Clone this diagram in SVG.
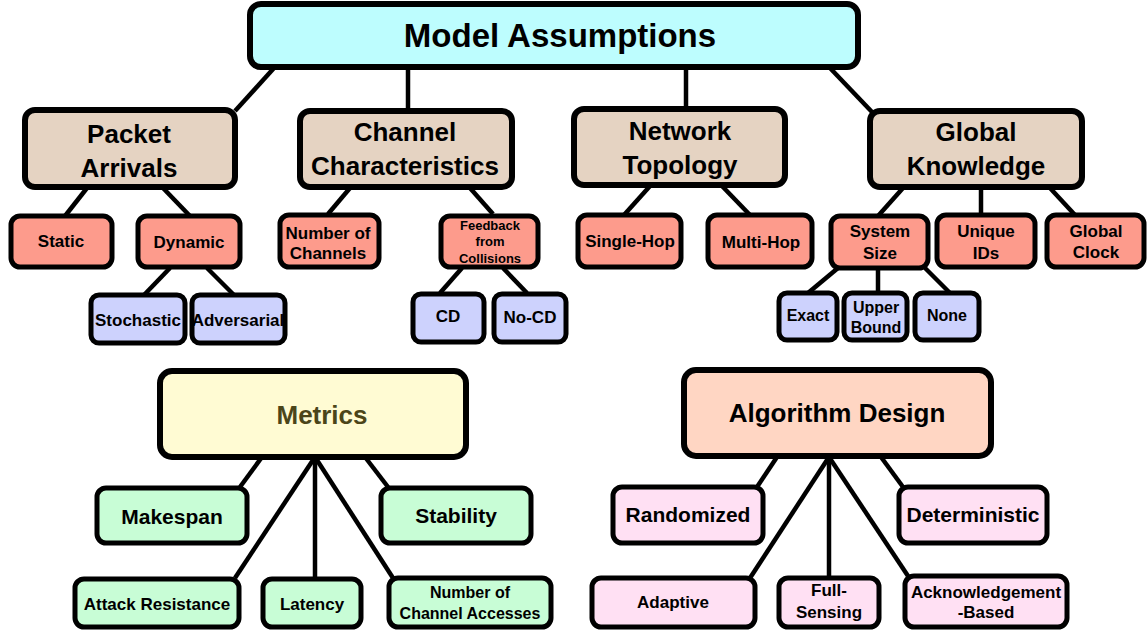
<svg xmlns="http://www.w3.org/2000/svg" width="1147" height="633" viewBox="0 0 1147 633">
<style>
rect{stroke:#000;stroke-linejoin:round}
.big{stroke-width:6}
.mid{stroke-width:6}
.sm{stroke-width:5}
.cyan{fill:#bdfdfe}
.tan{fill:#e5d3c2}
.red{fill:#fd9b8c}
.lav{fill:#cdd2fd}
.yel{fill:#fffbd3}
.peach{fill:#ffd6c3}
.grn{fill:#c8fdd6}
.pink{fill:#ffe0f3}
text{font-family:"Liberation Sans",Arial,Helvetica,sans-serif;font-weight:bold;fill:#000;text-anchor:middle;dominant-baseline:central}
.t32{font-size:33px}
.t26{font-size:26px}
.t21{font-size:21px}
.t17{font-size:17px}
.t16{font-size:16px}
.t13{font-size:13px}
#connectors line{stroke:#000;stroke-width:4.5;stroke-linecap:butt}
</style>
<rect width="1147" height="633" fill="#fff" style="stroke:none"/>
<g id="connectors">
<line x1="274" y1="68" x2="235" y2="111"/>
<line x1="408" y1="68" x2="408" y2="111"/>
<line x1="686" y1="68" x2="686" y2="109"/>
<line x1="830" y1="68" x2="872" y2="112"/>
<line x1="87" y1="188" x2="65" y2="216"/>
<line x1="163" y1="188" x2="190" y2="216"/>
<line x1="170" y1="268" x2="144" y2="295"/>
<line x1="207" y1="268" x2="234" y2="295"/>
<line x1="350" y1="188" x2="328" y2="214"/>
<line x1="470" y1="188" x2="493" y2="214"/>
<line x1="462" y1="268" x2="440" y2="293"/>
<line x1="503" y1="268" x2="527" y2="293"/>
<line x1="650" y1="186" x2="624" y2="215"/>
<line x1="722" y1="186" x2="750" y2="215"/>
<line x1="903" y1="188" x2="878" y2="216"/>
<line x1="981" y1="188" x2="981" y2="215"/>
<line x1="1050" y1="188" x2="1075" y2="215"/>
<line x1="838" y1="268" x2="808" y2="293"/>
<line x1="878" y1="268" x2="878" y2="293"/>
<line x1="925" y1="268" x2="950" y2="293"/>
<line x1="262" y1="457" x2="240" y2="487"/>
<line x1="315" y1="457" x2="235" y2="578"/>
<line x1="315" y1="457" x2="315" y2="578"/>
<line x1="315" y1="457" x2="393" y2="578"/>
<line x1="365" y1="457" x2="388" y2="487"/>
<line x1="777" y1="457" x2="757" y2="487"/>
<line x1="829" y1="457" x2="750" y2="578"/>
<line x1="829" y1="457" x2="829" y2="578"/>
<line x1="829" y1="457" x2="908" y2="576"/>
<line x1="881" y1="457" x2="903" y2="487"/>
</g>
<g id="model-assumptions"><rect class="big cyan" x="250" y="4" width="608" height="63" rx="11"/><text class="t32" x="560" y="35">Model Assumptions</text></g>
<g id="packet-arrivals"><rect class="mid tan" x="25" y="110" width="210" height="77" rx="10"/><text class="t26" x="129" y="134">Packet</text><text class="t26" x="129" y="168">Arrivals</text></g>
<g id="channel-characteristics"><rect class="mid tan" x="300" y="111" width="212" height="76" rx="10"/><text class="t26" x="405" y="132">Channel</text><text class="t26" x="405" y="166">Characteristics</text></g>
<g id="network-topology"><rect class="mid tan" x="574" y="109" width="211" height="76" rx="10"/><text class="t26" x="680" y="131">Network</text><text class="t26" x="680" y="165">Topology</text></g>
<g id="global-knowledge"><rect class="mid tan" x="870" y="111" width="212" height="76" rx="10"/><text class="t26" x="976" y="132">Global</text><text class="t26" x="976" y="166">Knowledge</text></g>
<g id="static"><rect class="sm red" x="11" y="216" width="101" height="51" rx="9"/><text class="t17" x="61" y="241">Static</text></g>
<g id="dynamic"><rect class="sm red" x="138" y="216" width="102" height="51" rx="9"/><text class="t17" x="189" y="242">Dynamic</text></g>
<g id="number-of-channels"><rect class="sm red" x="280" y="215" width="99" height="52" rx="9"/><text class="t17" x="328" y="233">Number of</text><text class="t17" x="328" y="253">Channels</text></g>
<g id="feedback-from-collisions"><rect class="sm red" x="441" y="216" width="97" height="51" rx="9"/><text class="t13" x="490" y="225">Feedback</text><text class="t13" x="490" y="241">from</text><text class="t13" x="490" y="258">Collisions</text></g>
<g id="single-hop"><rect class="sm red" x="578" y="215" width="103" height="52" rx="9"/><text class="t17" x="630" y="241">Single-Hop</text></g>
<g id="multi-hop"><rect class="sm red" x="708" y="215" width="104" height="52" rx="9"/><text class="t17" x="761" y="242">Multi-Hop</text></g>
<g id="system-size"><rect class="sm red" x="831" y="216" width="97" height="52" rx="9"/><text class="t17" x="880" y="231">System</text><text class="t17" x="880" y="253">Size</text></g>
<g id="unique-ids"><rect class="sm red" x="937" y="215" width="98" height="52" rx="9"/><text class="t17" x="986" y="231">Unique</text><text class="t17" x="986" y="253">IDs</text></g>
<g id="global-clock"><rect class="sm red" x="1047" y="215" width="97" height="52" rx="9"/><text class="t17" x="1096" y="231">Global</text><text class="t17" x="1096" y="252">Clock</text></g>
<g id="stochastic"><rect class="sm lav" x="91" y="295" width="94" height="48" rx="8"/><text class="t17" x="138" y="320">Stochastic</text></g>
<g id="adversarial"><rect class="sm lav" x="192" y="295" width="93" height="48" rx="8"/><text class="t17" x="238" y="320">Adversarial</text></g>
<g id="cd"><rect class="sm lav" x="413" y="294" width="71" height="48" rx="8"/><text class="t17" x="448" y="316">CD</text></g>
<g id="no-cd"><rect class="sm lav" x="494" y="294" width="72" height="48" rx="8"/><text class="t17" x="530" y="317">No-CD</text></g>
<g id="exact"><rect class="sm lav" x="779" y="293" width="58" height="47" rx="8"/><text class="t16" x="808" y="315">Exact</text></g>
<g id="upper-bound"><rect class="sm lav" x="844" y="293" width="63" height="47" rx="8"/><text class="t16" x="876" y="307">Upper</text><text class="t16" x="876" y="327">Bound</text></g>
<g id="none"><rect class="sm lav" x="915" y="293" width="64" height="47" rx="8"/><text class="t16" x="947" y="315">None</text></g>
<g id="metrics"><rect class="big yel" x="160" y="371" width="306" height="86" rx="12"/><text class="t26" x="322" y="415" style="fill:#4b4519">Metrics</text></g>
<g id="makespan"><rect class="sm grn" x="97" y="488" width="150" height="55" rx="9"/><text class="t21" x="172" y="516">Makespan</text></g>
<g id="stability"><rect class="sm grn" x="381" y="488" width="150" height="55" rx="9"/><text class="t21" x="456" y="515">Stability</text></g>
<g id="attack-resistance"><rect class="sm grn" x="75" y="579" width="164" height="48" rx="9"/><text class="t17" x="157" y="604">Attack Resistance</text></g>
<g id="latency"><rect class="sm grn" x="263" y="579" width="98" height="48" rx="9"/><text class="t17" x="312" y="604">Latency</text></g>
<g id="number-of-channel-accesses"><rect class="sm grn" x="389" y="578" width="162" height="49" rx="9"/><text class="t16" x="470" y="592">Number of</text><text class="t16" x="470" y="613">Channel Accesses</text></g>
<g id="algorithm-design"><rect class="big peach" x="684" y="370" width="307" height="86" rx="12"/><text class="t26" x="837" y="413">Algorithm Design</text></g>
<g id="randomized"><rect class="sm pink" x="613" y="487" width="150" height="56" rx="9"/><text class="t21" x="688" y="514">Randomized</text></g>
<g id="deterministic"><rect class="sm pink" x="899" y="487" width="148" height="56" rx="9"/><text class="t21" x="973" y="514">Deterministic</text></g>
<g id="adaptive"><rect class="sm pink" x="592" y="578" width="163" height="49" rx="9"/><text class="t17" x="673" y="602">Adaptive</text></g>
<g id="full-sensing"><rect class="sm pink" x="779" y="578" width="100" height="49" rx="9"/><text class="t17" x="829" y="590">Full-</text><text class="t17" x="829" y="612">Sensing</text></g>
<g id="acknowledgement-based"><rect class="sm pink" x="905" y="576" width="162" height="51" rx="9"/><text class="t17" x="986" y="592">Acknowledgement</text><text class="t17" x="986" y="612">-Based</text></g>
</svg>
